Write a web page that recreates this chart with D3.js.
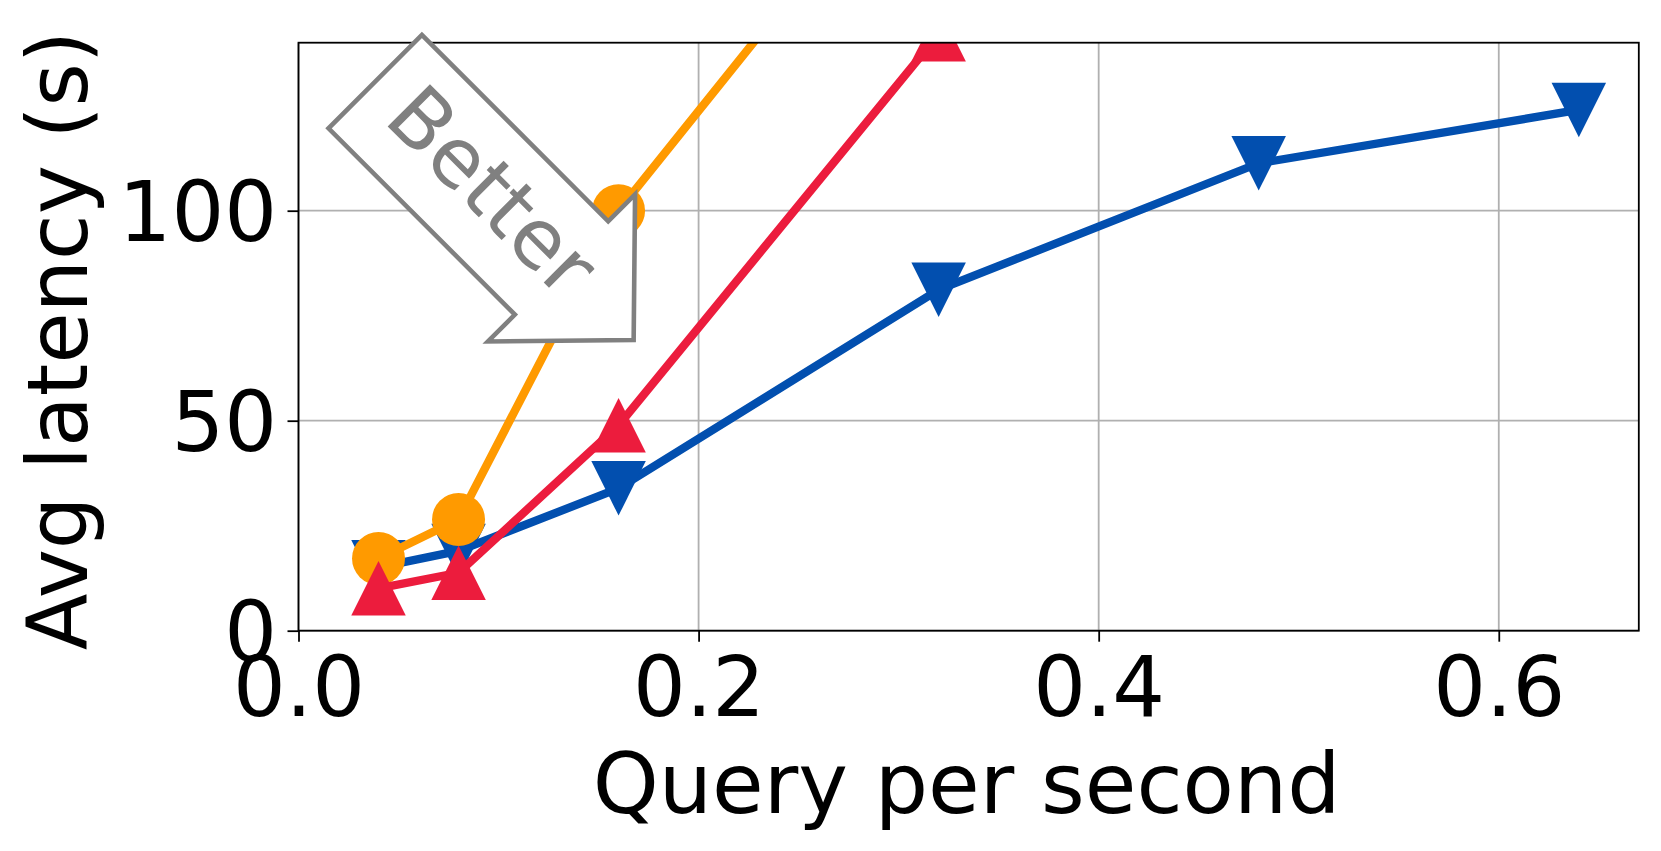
<!DOCTYPE html>
<html><head><meta charset="utf-8">
<script src="https://cdn.jsdelivr.net/npm/d3@7"></script>
<style>body{margin:0;background:#fff} svg{display:block}</style>
</head><body>
<svg id="chart" width="1661" height="851"></svg>
<script>
// ---- data ----
const blueQps = [0.04, 0.08, 0.16, 0.32, 0.48, 0.64];
const blueLatency = [15.1, 19.0, 33.9, 81.2, 111.3, 124.0];
const orangeQps = [0.04, 0.08, 0.16, 0.32];
const orangeLatency = [17.2, 26.5, 100.0, 195.0];
const redQps = [0.04, 0.08, 0.16, 0.32];
const redLatency = [10.1, 13.8, 48.9, 142.0];
const xTicks = [0.0, 0.2, 0.4, 0.6];
const yTicks = [0, 50, 100];
const xLabel = "Query per second";
const yLabel = "Avg latency (s)";
const annotationText = "Better";

// ---- layout ----
const plot = {left: 298.5, right: 1638.8, top: 42.7, bottom: 630.7};
const FONT = "DejaVu Sans, Verdana, sans-serif";
const FS = 83;
const LABEL_FS = 84;

const svg = d3.select("#chart");
const x = d3.scaleLinear().domain([0, 0.67]).range([plot.left, plot.right]);
const y = d3.scaleLinear().domain([0, 140]).range([plot.bottom, plot.top]);

// grid
const grid = svg.append("g");
grid.selectAll("line.gx").data(xTicks).join("line")
  .attr("x1", d => x(d)).attr("x2", d => x(d))
  .attr("y1", plot.top).attr("y2", plot.bottom)
  .attr("stroke", "#b0b0b0").attr("stroke-width", 1.8);
grid.selectAll("line.gy").data(yTicks).join("line")
  .attr("y1", d => y(d)).attr("y2", d => y(d))
  .attr("x1", plot.left).attr("x2", plot.right)
  .attr("stroke", "#b0b0b0").attr("stroke-width", 1.8);

// clip
svg.append("defs").append("clipPath").attr("id", "clip")
  .append("rect").attr("x", plot.left).attr("y", plot.top)
  .attr("width", plot.right - plot.left).attr("height", plot.bottom - plot.top);

const series = [
  {xs: blueQps, ys: blueLatency, color: "#024faf", marker: "down"},
  {xs: orangeQps, ys: orangeLatency, color: "#ff9a00", marker: "circle"},
  {xs: redQps, ys: redLatency, color: "#ec1c3d", marker: "up"}
];
const MS = 54.5;
const markerPath = {
  down: `M0,${MS/2} L${-MS/2},${-MS/2} L${MS/2},${-MS/2} Z`,
  up: `M0,${-MS/2} L${-MS/2},${MS/2} L${MS/2},${MS/2} Z`
};
const data = svg.append("g").attr("clip-path", "url(#clip)");
const line = d3.line().x(d => x(d[0])).y(d => y(d[1]));
series.forEach(s => {
  const pts = s.xs.map((v, i) => [v, s.ys[i]]);
  data.append("path").datum(pts).attr("d", line)
    .attr("fill", "none").attr("stroke", s.color).attr("stroke-width", 8.3)
    .attr("stroke-linejoin", "round").attr("stroke-linecap", "square");
  if (s.marker === "circle") {
    data.selectAll(null).data(pts).join("circle")
      .attr("cx", d => x(d[0])).attr("cy", d => y(d[1])).attr("r", 26.5)
      .attr("fill", s.color);
  } else {
    data.selectAll(null).data(pts).join("path")
      .attr("transform", d => `translate(${x(d[0])},${y(d[1])})`)
      .attr("d", markerPath[s.marker]).attr("fill", s.color);
  }
});

// axes
const xAxis = svg.append("g").attr("transform", `translate(0,${plot.bottom})`)
  .call(d3.axisBottom(x).tickValues(xTicks).tickFormat(d3.format(".1f")).tickSize(11).tickSizeOuter(0));
const yAxis = svg.append("g").attr("transform", `translate(${plot.left},0)`)
  .call(d3.axisLeft(y).tickValues(yTicks).tickFormat(d3.format("d")).tickSize(11).tickSizeOuter(0));
[xAxis, yAxis].forEach(a => {
  a.select(".domain").remove();
  a.selectAll(".tick line").attr("stroke", "#000").attr("stroke-width", 1.8);
  a.selectAll(".tick text").attr("fill", "#000").style("font-family", FONT).style("font-size", FS + "px");
});
xAxis.selectAll(".tick text").attr("y", 85.5).attr("dy", null);
yAxis.selectAll(".tick text").attr("x", -21.5).attr("dy", "0.36em");

// frame
svg.append("rect").attr("x", plot.left).attr("y", plot.top)
  .attr("width", plot.right - plot.left).attr("height", plot.bottom - plot.top)
  .attr("fill", "none").attr("stroke", "#000").attr("stroke-width", 1.8);

// labels
svg.append("text").attr("x", (plot.left + plot.right) / 2 - 2).attr("y", 812.5)
  .attr("text-anchor", "middle").style("font-family", FONT).style("font-size", LABEL_FS + "px")
  .text(xLabel);
svg.append("text").attr("transform", `translate(87,340.5) rotate(-90)`)
  .attr("text-anchor", "middle").style("font-family", FONT).style("font-size", FS + "px")
  .text(yLabel);

// "Better" arrow annotation
const better = {qps: 0.0949, latency: 103.8};
const ag = svg.append("g")
  .attr("transform", `translate(${x(better.qps)},${y(better.latency)}) rotate(45)`);
ag.append("path")
  .attr("d", "M-160,-66 L103.5,-66 L103.5,-104 L205.5,0 L103.5,104 L103.5,66 L-160,66 Z")
  .attr("fill", "#fff").attr("stroke", "#808080").attr("stroke-width", 4.6)
  .attr("stroke-linejoin", "miter");
ag.append("text").attr("x", 0).attr("y", 22.8).attr("text-anchor", "middle")
  .attr("fill", "#808080").style("font-family", FONT).style("font-size", "82px")
  .text(annotationText);
</script>
</body></html>
